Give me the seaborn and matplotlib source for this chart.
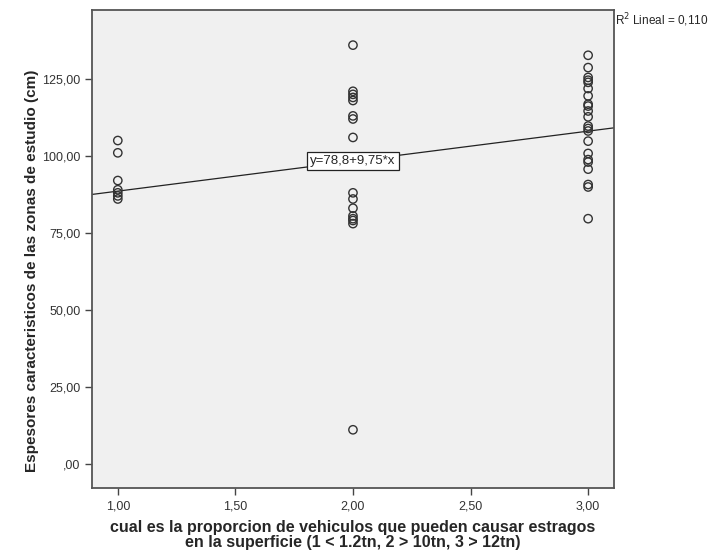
import matplotlib
matplotlib.use("Agg")
import matplotlib.pyplot as plt
import pandas as pd
import seaborn as sns
from matplotlib.ticker import FuncFormatter

# valores
grupo_1 = [105, 101, 92, 89, 88, 87, 86]
grupo_2 = [136, 121, 120, 119, 118, 113, 112, 106, 88, 86, 83, 80.5, 79.6, 79, 78, 11]
grupo_3 = [132.7, 128.7, 125.5, 124.6, 123.9, 121.9, 119.5, 116.8, 116.2, 114.6, 112.7,
           109.7, 108.9, 108.1, 104.8, 100.8, 98.8, 98.0, 95.7, 90.7, 89.9, 79.6]
categorias = [1, 2, 3]

intercepto = 78.8
pendiente = 9.75
r2 = 0.110

df = pd.DataFrame({
    "x": [1] * len(grupo_1) + [2] * len(grupo_2) + [3] * len(grupo_3),
    "y": grupo_1 + grupo_2 + grupo_3,
})

sns.set_style("white")
plt.rcParams['font.family'] = ['Liberation Sans', 'DejaVu Sans']

fig = plt.figure(figsize=(7.09, 5.58), dpi=100)
ax = fig.add_axes([0.130, 0.125, 0.736, 0.857])
ax.set_facecolor("#f0f0f0")

sns.scatterplot(data=df, x="x", y="y", ax=ax, s=36, facecolor="none",
                edgecolor="#333333", linewidth=1.0, zorder=3)

ax.axline((0, intercepto), slope=pendiente, color="#222222", linewidth=0.9, zorder=2)

ax.set_xlim(0.891, 3.11)
ax.set_ylim(-8.0, 147.4)
ax.set_xticks([1, 1.5, 2, 2.5, 3])
ax.set_yticks([0, 25, 50, 75, 100, 125])


def coma(v, pos):
    s = f"{v:.2f}".replace(".", ",")
    if s.startswith("0,"):
        s = s[1:]
    return s


ax.xaxis.set_major_formatter(FuncFormatter(coma))
ax.yaxis.set_major_formatter(FuncFormatter(coma))
ax.tick_params(axis="both", direction="out", length=5, width=1, color="#444444",
               labelsize=9, labelcolor="#333333", bottom=True, left=True)
for sp in ax.spines.values():
    sp.set_color("#555555")
    sp.set_linewidth(1.3)

ax.set_xlabel("cual es la proporcion de vehiculos que pueden causar estragos\n"
              "en la superficie (1 < 1.2tn, 2 > 10tn, 3 > 12tn)",
              fontsize=11.5, fontweight="bold", linespacing=0.98)
ax.xaxis.set_label_coords(0.5, -0.066)
ax.set_ylabel("Espesores caracteristicos de las zonas de estudio (cm)",
              fontsize=11, fontweight="bold")
ax.yaxis.set_label_coords(-0.102, 0.455)

x_eq = categorias[1]
ax.text(x_eq, intercepto + pendiente * x_eq, "y=78,8+9,75*x", ha="center", va="center",
        fontsize=9.5, zorder=4,
        bbox=dict(boxstyle="square,pad=0.22", facecolor="white", edgecolor="#222222",
                  linewidth=0.9))

fig.text(0.868, 0.963, "R$^2$ Lineal = " + f"{r2:.3f}".replace("0.", "0,"),
         fontsize=8.5, ha="left", va="center")

fig.savefig("out.png", dpi=100)
